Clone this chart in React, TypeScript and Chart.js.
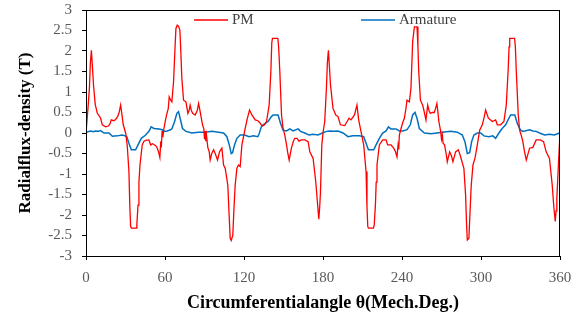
import React, { useEffect, useRef } from "react";
import { Chart, registerables } from "chart.js";

Chart.register(...registerables);

const seriesNames = ["PM", "Armature"];
const seriesColors = ["#FF0000", "#0070C0"];

const pmAngles = [
  0, 1.5, 2.6, 3.3, 4.1, 4.9, 5.7, 7.0, 8.6, 10, 11.1, 12.4, 14.9, 17, 18.2, 19.2, 21, 22.5, 24, 25, 26.3, 27.3, 28.3, 30.1,
  31.3, 32.6, 33.3, 33.9, 34.5, 38, 38.6, 39.5, 40.2, 41, 42.7, 44, 45.3, 47.8, 49.1, 50.5, 51.6, 53.6, 55, 56.1, 56.8,
  57.2, 57.8, 58.3, 59.2, 60.3, 61.2, 62.5, 63.2, 64, 65.2, 66.5, 67.5, 68.3, 69.3, 70.3, 71.3, 72, 72.8, 74.1, 75.9,
  77.4, 78.3, 79.1, 80, 81, 82.9, 84.5, 85.5, 86.7, 88.5, 89.5, 90, 90.5, 91, 91.5, 92.5, 93.6, 94.3, 95.5, 96.9, 98.1,
  99.9, 101.4, 103.2, 104.5, 105.7, 107.7, 108.7, 109.5, 110.3, 111.5, 112.3, 113.3, 114.6, 115.8, 117.1, 118.4, 120.9,
  122.5, 124.2, 126, 128.5, 130.5, 132, 133.5, 135, 137.1, 139.1, 140.4, 141.1, 141.6, 145.7, 146.3, 147.2, 148.5, 149.7,
  151, 152.3, 153.3, 154.3, 156, 157.5, 158.6, 160.3, 161.8, 163.6, 166.2, 168.7, 170, 172.5, 174.5, 175.8, 176.8, 177.5,
  178.1, 179.1, 180, 181.3, 182.6, 183.3, 184.1, 184.9, 185.7, 187.6, 189.7, 191.4, 193.2, 196.5, 198.3, 199.8, 201.3,
  203.9, 205.8, 207.1, 208.9, 210.9, 212.7, 213.4, 214, 214.5, 218.3, 218.9, 219.8, 220.4, 221, 222.8, 225.3, 227.9,
  229.1, 231.6, 233.7, 235, 236.2, 237, 237.5, 238, 239.3, 240.5, 241.8, 243, 243.8, 245.6, 246.8, 248.1, 249.4, 251.4,
  252.1, 252.7, 254, 255.7, 257, 258.2, 259.5, 260.5, 261.5, 263, 264.5, 265.5, 266.5, 267.3, 268, 269.3, 270, 270.6,
  271.2, 272.3, 273.5, 274.4, 276.2, 277.5, 278.7, 280.7, 282.8, 284.5, 287, 288.3, 289, 289.6, 290.8, 291.7, 292.6,
  293.9, 295.4, 297.2, 299, 301, 302.5, 303.5, 305.6, 308.6, 311.1, 312.4, 314.9, 317.4, 319.2, 320.7, 321.3, 321.8,
  325.5, 326.1, 326.8, 328.3, 329.3, 330.5, 331.8, 333, 334.4, 336.9, 339.4, 341.9, 345, 347.5, 349.5, 352, 354.1, 355.3,
  356.4, 357, 357.6, 358.9, 360,
];
const pmValues = [
  0, 0.6, 1.1, 1.7, 2.02, 1.6, 1.17, 0.7, 0.48, 0.42, 0.36, 0.2, 0.15, 0.17, 0.22, 0.32, 0.3, 0.33, 0.4, 0.48, 0.68, 0.45,
  0.2, 0.0, -0.3, -0.94, -1.8, -2.28, -2.32, -2.32, -2.25, -1.76, -1.2, -0.78, -0.29, -0.2, -0.18, -0.17, -0.29, -0.26,
  -0.28, -0.33, -0.45, -0.6, -0.2, -0.35, 0.05, -0.1, 0.11, 0.3, 0.44, 0.6, 0.88, 0.82, 0.76, 1.25, 2.0, 2.55, 2.63, 2.6,
  2.51, 2.0, 1.33, 0.8, 0.76, 0.48, 0.55, 0.68, 0.55, 0.48, 0.44, 0.55, 0.72, 0.52, 0.2, 0.1, -0.15, 0.05, -0.2, -0.05,
  -0.35, -0.46, -0.66, -0.5, -0.41, -0.5, -0.66, -0.46, -0.37, -0.78, -0.86, -1.27, -2.0, -2.57, -2.62, -2.49, -1.9,
  -1.27, -0.86, -0.78, -0.82, -0.29, 0.11, 0.35, 0.56, 0.44, 0.32, 0.3, 0.25, 0.18, 0.18, 0.28, 0.68, 1.5, 2.2, 2.31,
  2.31, 2.1, 1.5, 0.44, 0.11, -0.05, -0.29, -0.5, -0.66, -0.37, -0.2, -0.13, -0.13, -0.2, -0.17, -0.17, -0.21, -0.46,
  -0.62, -1.19, -1.7, -2.1, -1.8, -1.43, -0.29, 0.0, 0.28, 1.09, 1.7, 2.02, 1.6, 1.17, 0.6, 0.44, 0.4, 0.2, 0.18, 0.28,
  0.36, 0.32, 0.44, 0.68, 0.32, 0.03, -0.29, -0.94, -1.8, -2.28, -2.32, -2.32, -2.25, -1.76, -1.2, -0.78, -0.29, -0.17,
  -0.17, -0.29, -0.29, -0.37, -0.45, -0.58, -0.3, -0.4, -0.05, 0.11, 0.25, 0.36, 0.6, 0.8, 0.76, 1.09, 2.23, 2.59, 2.59,
  2.1, 1.5, 0.8, 0.68, 0.5, 0.32, 0.68, 0.55, 0.48, 0.5, 0.5, 0.6, 0.72, 0.5, 0.28, 0.05, -0.15, -0.05, -0.25, -0.29,
  -0.5, -0.7, -0.46, -0.55, -0.7, -0.46, -0.41, -0.58, -0.86, -1.51, -2.2, -2.61, -2.57, -1.9, -1.27, -0.78, -0.62,
  -0.29, 0.07, 0.2, 0.4, 0.56, 0.36, 0.28, 0.32, 0.2, 0.2, 0.28, 0.68, 1.58, 2.1, 2.31, 2.31, 2.1, 1.5, 0.44, 0.07,
  -0.05, -0.21, -0.45, -0.66, -0.37, -0.35, -0.17, -0.17, -0.21, -0.46, -0.62, -1.27, -1.8, -2.16, -1.9, -1.6, -0.7, 0.0,
];

const armAngles = [
  0, 3.5, 5.5, 7.3, 9, 11.1, 13.7, 17.5, 20, 23.8, 27.5, 30.9, 32.6, 34.4, 37.7, 39.5, 42, 45.3, 47.8, 49.5, 51.6, 55.4,
  57.9, 59.2, 61.7, 64.2, 65.3, 67.3, 69, 70.3, 71.5, 73.3, 75.9, 80.4, 85.5, 90.5, 95.6, 100.7, 104.5, 107, 108.8, 110.3,
  111.3, 112.8, 114.6, 117.1, 120.4, 123.9, 127.2, 130.5, 131.5, 133, 134.5, 138.3, 140.8, 142.1, 145.9, 147.7, 149.7,
  152.3, 154.8, 157.3, 161.1, 162.9, 166.2, 169.4, 172.5, 176.2, 179.6, 182.6, 185.1, 188.2, 191.4, 195.2, 199, 202.6,
  207.7, 210.9, 212.7, 214.5, 218.5, 220.3, 222.8, 225.3, 227.9, 229.7, 231.6, 235.4, 238, 240.5, 243.8, 246.3, 248.1,
  249.9, 251.4, 253.2, 257, 262, 266.5, 270.6, 276.9, 282, 285.8, 287.8, 289.6, 291.4, 292.9, 294.6, 297.2, 299.7, 302.2,
  306, 309, 311.1, 313.6, 316.1, 318.7, 321.2, 322.5, 325.7, 327.5, 330, 331.8, 336.9, 339.4, 341.9, 344.5, 348.3, 352,
  355.8, 359.6,
];
const armValues = [
  0.02, 0.05, 0.03, 0.05, 0.04, 0.06, 0.0, 0.0, -0.08, -0.07, -0.05, -0.08, -0.25, -0.41, -0.41, -0.29, -0.13, -0.05,
  0.04, 0.15, 0.11, 0.1, 0.08, 0.04, 0.05, 0.08, 0.11, 0.28, 0.48, 0.52, 0.36, 0.11, 0.04, 0.0, 0.02, 0.02, 0.04, 0.02,
  0.0, -0.09, -0.29, -0.5, -0.48, -0.29, -0.13, -0.05, -0.05, -0.09, -0.07, -0.09, -0.02, 0.14, 0.2, 0.28, 0.4, 0.44,
  0.44, 0.24, 0.07, 0.05, 0.1, 0.05, 0.1, 0.04, 0.0, -0.05, -0.03, -0.05, 0.0, 0.04, 0.05, 0.04, 0.05, 0.0, -0.09, -0.07,
  -0.07, -0.09, -0.25, -0.41, -0.41, -0.29, -0.13, 0.0, 0.05, 0.15, 0.1, 0.1, 0.05, 0.05, 0.08, 0.2, 0.44, 0.5, 0.36,
  0.11, 0.0, -0.02, 0.0, 0.02, 0.04, 0.02, -0.05, -0.21, -0.5, -0.48, -0.21, -0.05, 0.0, 0.0, -0.07, -0.09, -0.07, -0.13,
  0.0, 0.11, 0.2, 0.36, 0.44, 0.44, 0.24, 0.07, 0.04, 0.08, 0.05, 0.04, 0.0, -0.05, -0.03, -0.05, 0.0,
];

const xTickMin = 0;
const xTickMax = 360;
const xTickStep = 60;
const yTickMin = -3;
const yTickMax = 3;
const yTickStep = 0.5;

const xTitle = "Circumferentialangle θ(Mech.Deg.)";
const yTitle = "Radialflux-density (T)";

const frameAndLegend = {
  id: "frameAndLegend",
  afterDraw(chart: any) {
    const { ctx, chartArea } = chart;
    ctx.save();
    ctx.strokeStyle = "#000000";
    ctx.lineWidth = 1;
    ctx.strokeRect(chartArea.left + 0.5, chartArea.top + 0.5, chartArea.right - chartArea.left - 1, chartArea.bottom - chartArea.top);
    const offsets = [108, 275];
    const y = chartArea.top + 10;
    ctx.font = "15px 'Liberation Serif'";
    ctx.textBaseline = "middle";
    chart.data.datasets.forEach((ds: any, i: number) => {
      const x0 = chartArea.left + offsets[i];
      ctx.strokeStyle = ds.borderColor;
      ctx.lineWidth = 1.5;
      ctx.beginPath();
      ctx.moveTo(x0, y);
      ctx.lineTo(x0 + 34, y);
      ctx.stroke();
      ctx.fillStyle = "#404040";
      ctx.fillText(ds.label, x0 + 38, y);
    });
    ctx.restore();
  },
};

export default function App() {
  const ref = useRef<HTMLCanvasElement | null>(null);
  useEffect(() => {
    document.body.style.margin = "0";
    const canvas = ref.current;
    if (!canvas) return;
    const chart = new Chart(canvas, {
      type: "line",
      data: {
        datasets: [
          {
            label: seriesNames[0],
            data: pmAngles.map((a, i) => ({ x: a, y: pmValues[i] })),
            borderColor: seriesColors[0],
            backgroundColor: seriesColors[0],
            borderWidth: 1.3,
            pointRadius: 0,
            tension: 0,
          },
          {
            label: seriesNames[1],
            data: armAngles.map((a, i) => ({ x: a, y: armValues[i] })),
            borderColor: seriesColors[1],
            backgroundColor: seriesColors[1],
            borderWidth: 1.5,
            pointRadius: 0,
            tension: 0,
          },
        ],
      },
      options: {
        animation: false,
        responsive: false,
        devicePixelRatio: 1,
        layout: { padding: { top: 10, right: 26, left: 0, bottom: 0 } },
        plugins: { legend: { display: false }, tooltip: { enabled: false } },
        scales: {
          x: {
            type: "linear",
            min: xTickMin,
            max: xTickMax,
            ticks: {
              stepSize: xTickStep,
              color: "#595959",
              font: { family: "'Liberation Serif'", size: 15 },
              padding: 9,
              maxRotation: 0,
              autoSkip: false,
            },
            grid: { drawOnChartArea: false, drawTicks: true, tickLength: 4, color: "#000000" },
            border: { display: true, color: "#000000", width: 1 },
            title: {
              display: true,
              text: xTitle,
              color: "#000000",
              font: { family: "'Liberation Serif'", size: 18, weight: "bold" },
              padding: { top: 0, bottom: 8 },
            },
            afterFit: (scale: any) => {
              scale.height = 66;
            },
          },
          y: {
            type: "linear",
            min: yTickMin,
            max: yTickMax,
            ticks: {
              stepSize: yTickStep,
              color: "#595959",
              font: { family: "'Liberation Serif'", size: 15 },
              padding: 10,
              autoSkip: false,
              callback: (v: any) => String(Math.round(Number(v) * 10) / 10),
            },
            grid: { drawOnChartArea: false, drawTicks: true, tickLength: 4, color: "#000000" },
            border: { display: true, color: "#000000", width: 1 },
            title: {
              display: true,
              text: yTitle,
              color: "#000000",
              font: { family: "'Liberation Serif'", size: 17, weight: "bold" },
              padding: { top: 15, bottom: 0 },
            },
            afterFit: (scale: any) => {
              scale.width = 86;
              scale.paddingTop = 0;
              scale.paddingBottom = 0;
            },
          },
        },
      },
      plugins: [frameAndLegend],
    });
    return () => chart.destroy();
  }, []);
  return (
    <div style={{ width: 586, height: 322 }}>
      <canvas ref={ref} width={586} height={322} />
    </div>
  );
}
